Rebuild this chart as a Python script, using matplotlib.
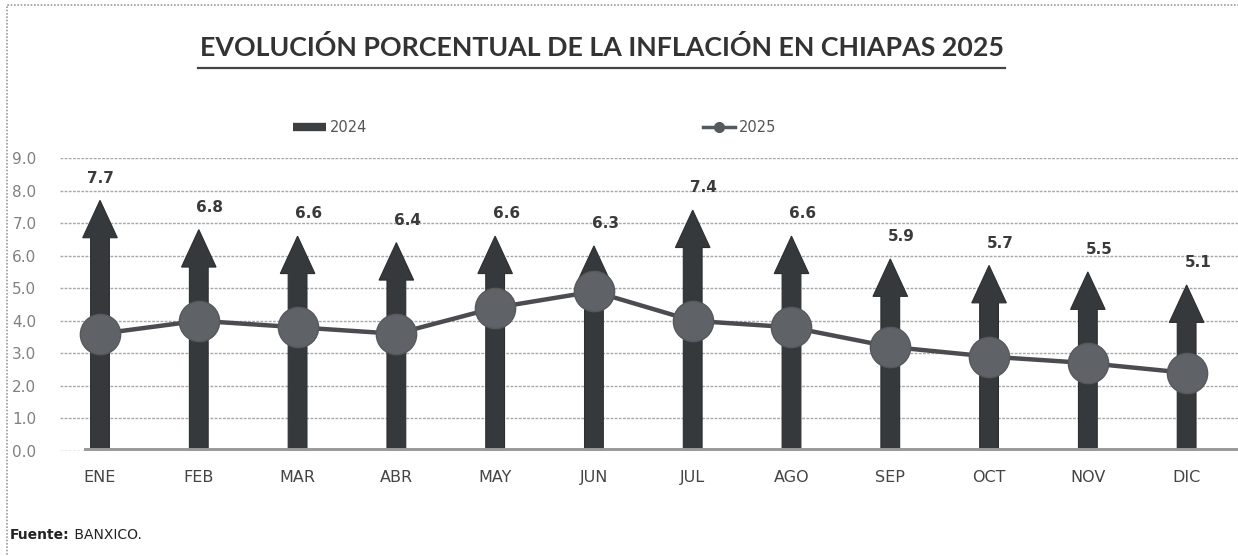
import numpy as np
import matplotlib.pyplot as plt
from matplotlib.lines import Line2D
from matplotlib.patches import Rectangle

# datos
meses = ['ENE', 'FEB', 'MAR', 'ABR', 'MAY', 'JUN', 'JUL', 'AGO', 'SEP', 'OCT', 'NOV', 'DIC']
inf_2024 = [7.7, 6.8, 6.6, 6.4, 6.6, 6.3, 7.4, 6.6, 5.9, 5.7, 5.5, 5.1]
inf_2025 = [3.6, 4.0, 3.8, 3.6, 4.4, 4.9, 4.0, 3.8, 3.2, 2.9, 2.7, 2.4]
yticks = [0, 1, 2, 3, 4, 5, 6, 7, 8, 9]

W, H = 1238, 556
fig = plt.figure(figsize=(W / 100, H / 100), dpi=100)
fig.patch.set_facecolor('white')

ax = fig.add_axes([60 / W, 1 - 451 / H, (W - 60) / W, (451 - 158) / H])
ax.set_facecolor('white')
x = np.arange(len(meses))

# flechas (2024)
for xi, v in zip(x, inf_2024):
    ax.arrow(xi, 0, 0, v, width=0.19, head_width=0.35, head_length=1.15,
             length_includes_head=True, fc='#36393c', ec='#2c2f32', lw=0.8, zorder=3)
    ax.annotate(f'{v:.1f}', (xi, v), xytext=(8 if xi > 0 else 0, 16),
                textcoords='offset points', ha='center', va='center',
                fontsize=11, fontweight='bold', color='#3a3a3a',
                family='DejaVu Sans', zorder=6)

# linea 2025
ax.plot(x, inf_2025, color='#4a4c50', lw=3.2, marker='o', markersize=29,
        markerfacecolor='#5f6266', markeredgecolor='#55585c', zorder=4)

ax.set_xlim(-0.405, 11.52)
ax.set_ylim(0, 9)
ax.set_yticks(yticks)
ax.set_yticklabels([f'{t:.1f}' for t in yticks], fontsize=11, color='#808080',
                   family='DejaVu Sans')
ax.set_xticks(x)
ax.set_xticklabels(meses, fontsize=11.5, color='#444444', family='DejaVu Sans')
ax.tick_params(axis='y', length=0, pad=17)
ax.tick_params(axis='x', length=0, pad=14)
ax.grid(axis='y', color='#a8a8a8', lw=1.0, ls=(0, (2, 1)), zorder=0)
ax.set_axisbelow(True)
for s in ax.spines.values():
    s.set_visible(False)
# eje x grueso gris
ax.axhline(0, xmin=27 / (W - 60), xmax=1, color='#9a9a9a', lw=5, zorder=5)

# titulo subrayado
fig.text(0.5 * (198 + 1005) / W, 1 - 48 / H,
         'EVOLUCIÓN PORCENTUAL DE LA INFLACIÓN EN CHIAPAS 2025',
         ha='center', va='center', fontsize=19.3, fontweight='bold',
         color='#333333', family='Lato')
fig.add_artist(Line2D([198 / W, 1005 / W], [1 - 68 / H, 1 - 68 / H],
                      color='#444444', lw=1.6))

# leyenda
h24 = Line2D([], [], color='#3c3f42', lw=6, solid_capstyle='butt')
h25 = Line2D([], [], color='#55585c', lw=2.5, marker='o', markersize=7)
fig.legend([h24, h25], ['2024', '2025'], ncol=2, loc='center',
           bbox_to_anchor=(535 / W, 1 - 128 / H), frameon=False,
           labelcolor='#555555', handlelength=2.2, columnspacing=23,
           handletextpad=0.3, prop={'family': 'DejaVu Sans', 'size': 10.5})

# fuente
t1 = fig.text(10 / W, 1 - 535 / H, 'Fuente:', fontsize=10, fontweight='bold',
              color='#222222', family='DejaVu Sans', va='center')
ax.annotate(' BANXICO.', xy=(1, 0.5), xycoords=t1, va='center', ha='left',
            fontsize=10, color='#222222', family='DejaVu Sans', annotation_clip=False)

# marco
fig.add_artist(Rectangle((7 / W, -0.01), 1.0, 1 - 5 / H + 0.01, transform=fig.transFigure,
                         fill=False, ec='#9a9a9a', lw=1.2, ls=(0, (1, 1))))

fig.savefig('out.png', dpi=100)
